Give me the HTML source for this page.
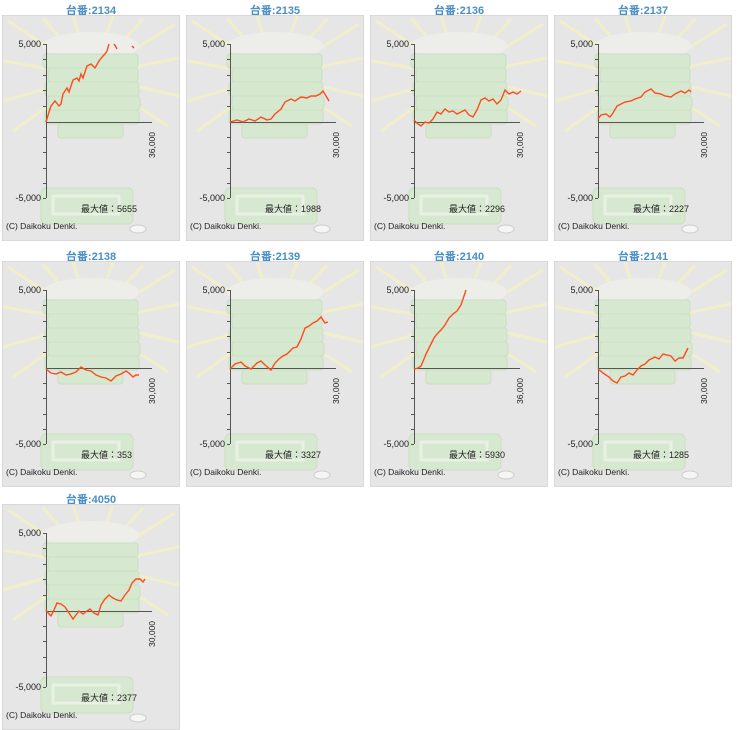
<!DOCTYPE html>
<html><head><meta charset="utf-8"><style>
body{margin:0;width:750px;height:730px;background:#fff;position:relative;overflow:hidden;font-family:"Liberation Sans","Noto Sans CJK JP",sans-serif}
.p{position:absolute;width:178px;height:240px}
.t{position:absolute;left:0;top:2px;width:178px;text-align:center;font-size:11px;color:#4a8fc4;font-weight:bold}
.b{position:absolute;left:0;top:15px;width:176px;height:224px;border:1px solid #d8d8d8;background:#e6e6e6}
svg{position:absolute;left:0;top:0}
</style></head><body>
<svg width="0" height="0" style="position:absolute">
<defs>
<symbol id="bg" viewBox="0 0 176 224">
<g stroke="#f3f0c6" stroke-width="3" opacity="0.9">
<line x1="88" y1="60" x2="5" y2="5"/><line x1="88" y1="60" x2="40" y2="2"/><line x1="88" y1="60" x2="70" y2="0"/>
<line x1="88" y1="60" x2="110" y2="0"/><line x1="88" y1="60" x2="140" y2="3"/><line x1="88" y1="60" x2="172" y2="8"/>
<line x1="88" y1="60" x2="0" y2="45"/><line x1="88" y1="60" x2="176" y2="42"/><line x1="88" y1="60" x2="0" y2="85"/>
<line x1="88" y1="60" x2="176" y2="80"/><line x1="88" y1="60" x2="10" y2="115"/><line x1="88" y1="60" x2="165" y2="110"/>
</g>
<ellipse cx="88" cy="30" rx="48" ry="14" fill="#ededea"/>
<g fill="#d7e8d0" stroke="#c9dfc0">
<rect x="40" y="38" width="95" height="14" rx="3"/><rect x="45" y="52" width="90" height="14" rx="3"/>
<rect x="42" y="66" width="94" height="14" rx="3"/><rect x="45" y="80" width="92" height="14" rx="3"/>
<rect x="42" y="94" width="94" height="14" rx="3"/><rect x="55" y="108" width="65" height="14" rx="3"/>
<rect x="38" y="172" width="92" height="36" rx="5"/>
</g>
<rect x="50" y="180" width="66" height="18" fill="none" stroke="#e8f1e3" stroke-width="3"/>
<ellipse cx="135" cy="213" rx="8" ry="4" fill="#f6f6f6" stroke="#ccc"/>
</symbol>
<symbol id="ax" viewBox="0 0 176 224">
<g stroke="#555" stroke-width="1" fill="none">
<line x1="43.5" y1="28" x2="43.5" y2="182"/><line x1="43" y1="106.5" x2="149" y2="106.5"/>
<path d="M40 28.5h3M40 43.5h3M40 59.5h3M40 74.5h3M40 90.5h3M40 121.5h3M40 136.5h3M40 152.5h3M40 167.5h3M40 182.5h3"/>
</g>
<g font-size="9" fill="#222" font-family="Liberation Sans,sans-serif">
<text x="38" y="31" text-anchor="end">5,000</text><text x="38" y="185" text-anchor="end">-5,000</text>
<text x="3" y="213" font-size="8.5">(C) Daikoku Denki.</text>
</g>
</symbol>
</defs></svg>

<div class="p" style="left:2px;top:0"><div class="t">台番:2134</div><div class="b"><svg width="176" height="224"><use href="#bg"/><use href="#ax"/>
<polyline fill="none" stroke="#ff4a1a" stroke-width="1.4" points="43,106 46,96 48,90 52,85 56,90 58,88 60,78 64,72 66,76 70,64 74,62 76,65 78,58 80,62 84,50 88,48 92,52 96,45 100,40 102,38 104,35 106,28"/>
<polyline fill="none" stroke="#ff4a1a" stroke-width="1.4" points="111,28 113,31 114,33"/><line x1="129" y1="30" x2="131" y2="32" stroke="#ff4a1a" stroke-width="1.4"/>
<text x="0" y="0" font-size="8.5" fill="#222" transform="translate(152,142) rotate(-90)">36,000</text>
<text x="78" y="196" font-size="9" fill="#222">最大値：5655</text></svg></div></div>

<div class="p" style="left:186px;top:0"><div class="t">台番:2135</div><div class="b"><svg width="176" height="224"><use href="#bg"/><use href="#ax"/>
<polyline fill="none" stroke="#ff4a1a" stroke-width="1.4" points="43,106 50,104 56,106 62,103 68,105 74,101 80,104 84,103 88,98 94,93 98,86 104,83 108,85 114,81 120,82 124,80 129,80 133,78 136,75 139,80 142,85"/>
<text x="0" y="0" font-size="8.5" fill="#222" transform="translate(152,142) rotate(-90)">30,000</text>
<text x="78" y="196" font-size="9" fill="#222">最大値：1988</text></svg></div></div>

<div class="p" style="left:370px;top:0"><div class="t">台番:2136</div><div class="b"><svg width="176" height="224"><use href="#bg"/><use href="#ax"/>
<polyline fill="none" stroke="#ff4a1a" stroke-width="1.4" points="43,104 47,108 50,110 54,106 58,107 62,103 66,96 70,98 74,93 78,96 82,95 86,98 90,96 94,94 98,99 102,101 106,94 110,84 114,82 118,85 122,83 126,88 130,84 134,74 138,78 142,76 146,78 150,75"/>
<text x="0" y="0" font-size="8.5" fill="#222" transform="translate(152,142) rotate(-90)">30,000</text>
<text x="78" y="196" font-size="9" fill="#222">最大値：2296</text></svg></div></div>

<div class="p" style="left:554px;top:0"><div class="t">台番:2137</div><div class="b"><svg width="176" height="224"><use href="#bg"/><use href="#ax"/>
<polyline fill="none" stroke="#ff4a1a" stroke-width="1.4" points="43,103 46,99 51,98 55,101 58,97 62,90 66,88 70,86 76,85 80,83 86,81 90,76 96,73 100,77 106,78 110,80 116,81 120,78 126,75 130,77 134,74 136,76"/>
<text x="0" y="0" font-size="8.5" fill="#222" transform="translate(152,142) rotate(-90)">30,000</text>
<text x="78" y="196" font-size="9" fill="#222">最大値：2227</text></svg></div></div>

<div class="p" style="left:2px;top:246px"><div class="t">台番:2138</div><div class="b"><svg width="176" height="224"><use href="#bg"/><use href="#ax"/>
<polyline fill="none" stroke="#ff4a1a" stroke-width="1.4" points="43,107 48,111 53,112 58,110 63,113 68,112 73,110 78,105 83,108 88,109 93,113 98,115 103,116 108,119 113,114 118,112 123,109 126,111 130,115 133,113 136,113"/>
<text x="0" y="0" font-size="8.5" fill="#222" transform="translate(152,142) rotate(-90)">30,000</text>
<text x="78" y="196" font-size="9" fill="#222">最大値：353</text></svg></div></div>

<div class="p" style="left:186px;top:246px"><div class="t">台番:2139</div><div class="b"><svg width="176" height="224"><use href="#bg"/><use href="#ax"/>
<polyline fill="none" stroke="#ff4a1a" stroke-width="1.4" points="43,107 48,102 54,100 58,104 64,107 70,101 74,99 78,103 84,108 88,101 92,97 96,94 100,92 106,86 110,85 114,77 118,66 122,64 126,61 130,59 134,55 138,61 141,60"/>
<text x="0" y="0" font-size="8.5" fill="#222" transform="translate(152,142) rotate(-90)">30,000</text>
<text x="78" y="196" font-size="9" fill="#222">最大値：3327</text></svg></div></div>

<div class="p" style="left:370px;top:246px"><div class="t">台番:2140</div><div class="b"><svg width="176" height="224"><use href="#bg"/><use href="#ax"/>
<polyline fill="none" stroke="#ff4a1a" stroke-width="1.4" points="43,107 47,106 50,104 53,97 55,92 58,86 60,82 63,76 66,72 70,68 74,63 78,56 82,52 86,49 90,43 93,34 95,28"/>
<text x="0" y="0" font-size="8.5" fill="#222" transform="translate(152,142) rotate(-90)">36,000</text>
<text x="78" y="196" font-size="9" fill="#222">最大値：5930</text></svg></div></div>

<div class="p" style="left:554px;top:246px"><div class="t">台番:2141</div><div class="b"><svg width="176" height="224"><use href="#bg"/><use href="#ax"/>
<polyline fill="none" stroke="#ff4a1a" stroke-width="1.4" points="43,107 48,111 54,115 58,119 62,121 66,115 70,114 74,111 78,113 82,108 86,104 90,102 94,98 100,95 104,97 108,92 112,93 116,94 120,99 124,96 128,96 131,90 133,86"/>
<text x="0" y="0" font-size="8.5" fill="#222" transform="translate(152,142) rotate(-90)">30,000</text>
<text x="78" y="196" font-size="9" fill="#222">最大値：1285</text></svg></div></div>

<div class="p" style="left:2px;top:489px"><div class="t">台番:4050</div><div class="b"><svg width="176" height="224"><use href="#bg"/><use href="#ax"/>
<polyline fill="none" stroke="#ff4a1a" stroke-width="1.4" points="43,105 46,109 48,111 51,105 54,98 58,99 62,102 66,108 70,114 73,110 76,106 80,109 84,106 87,104 91,108 95,110 98,100 102,94 106,90 110,93 114,95 118,96 122,90 126,85 129,78 133,74 137,74 140,77 142,74"/>
<text x="0" y="0" font-size="8.5" fill="#222" transform="translate(152,142) rotate(-90)">30,000</text>
<text x="78" y="196" font-size="9" fill="#222">最大値：2377</text></svg></div></div>
</body></html>
